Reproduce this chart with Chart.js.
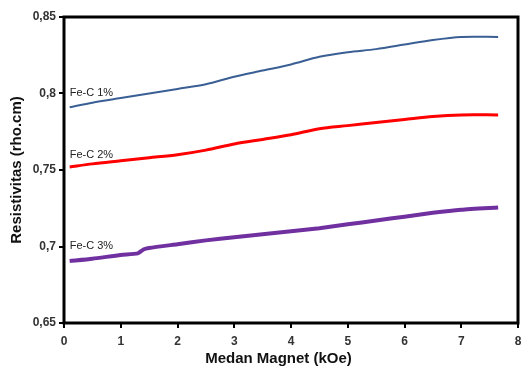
<!DOCTYPE html>
<html lang="id">
<head>
<meta charset="UTF-8">
<title>Resistivitas vs Medan Magnet</title>
<script src="https://cdn.jsdelivr.net/npm/chart.js@4.4.6/dist/chart.umd.min.js"></script>
<style>
  html, body { margin: 0; padding: 0; background: #fff; }
  canvas { display: block; }
</style>
</head>
<body>
<canvas id="chart" width="522" height="372"></canvas>
<script>
  // field (kOe) and resistivity (rho.cm)
  const fieldA = [0.1, 0.5, 1.0, 1.5, 2.0, 2.5, 3.0, 3.5, 4.0, 4.5, 5.0, 5.5, 6.0, 6.5, 7.0, 7.65];
  const feC1 = [0.791, 0.794, 0.797, 0.800, 0.803, 0.806, 0.811, 0.815, 0.819, 0.824, 0.827, 0.829, 0.832, 0.835, 0.837, 0.837];
  const feC2 = [0.752, 0.754, 0.756, 0.758, 0.760, 0.763, 0.767, 0.770, 0.773, 0.777, 0.779, 0.781, 0.783, 0.785, 0.786, 0.786];
  const fieldB = [0.1, 0.5, 1.0, 1.3, 1.4, 1.5, 2.0, 2.5, 3.0, 3.5, 4.0, 4.5, 5.0, 5.5, 6.0, 6.5, 7.0, 7.65];
  const feC3 = [0.6905, 0.692, 0.6945, 0.6955, 0.698, 0.699, 0.7015, 0.704, 0.706, 0.708, 0.710, 0.712, 0.7145, 0.717, 0.7195, 0.722, 0.724, 0.7255];

  const seriesNames = ["Fe-C 1%", "Fe-C 2%", "Fe-C 3%"];
  // where each name sits, in data units (field, resistivity)
  const nameAnchors = [[0.1, 0.8005], [0.1, 0.7600], [0.1, 0.7006]];

  const yTicks = [0.65, 0.7, 0.75, 0.8, 0.85];
  const FONT = "'Liberation Sans', Arial, sans-serif";

  const pts = (xs, ys) => xs.map((x, i) => ({ x: x, y: ys[i] }));

  const frame = {
    id: "frame",
    afterDraw(chart) {
      const { ctx, chartArea: a, scales } = chart;
      ctx.save();
      ctx.strokeStyle = "#000";
      ctx.lineWidth = 3;
      ctx.strokeRect(a.left, a.top, a.right - a.left, a.bottom - a.top);
      ctx.font = "11px " + FONT;
      ctx.fillStyle = "#222";
      ctx.textBaseline = "middle";
      seriesNames.forEach((name, i) => {
        const px = scales.x.getPixelForValue(nameAnchors[i][0]);
        const py = scales.y.getPixelForValue(nameAnchors[i][1]);
        ctx.fillText(name, px, py);
      });
      ctx.restore();
    }
  };

  new Chart(document.getElementById("chart"), {
    type: "line",
    data: {
      datasets: [
        { label: seriesNames[0], data: pts(fieldA, feC1), borderColor: "#3a5f95", borderWidth: 2, pointRadius: 0, tension: 0.3 },
        { label: seriesNames[1], data: pts(fieldA, feC2), borderColor: "#ff0000", borderWidth: 3, pointRadius: 0, tension: 0.3 },
        { label: seriesNames[2], data: pts(fieldB, feC3), borderColor: "#7030a0", borderWidth: 4, pointRadius: 0, tension: 0.2 }
      ]
    },
    options: {
      responsive: false,
      animation: false,
      layout: { padding: { top: 17, right: 4, left: 2, bottom: 0 } },
      plugins: { legend: { display: false }, tooltip: { enabled: false } },
      scales: {
        x: {
          type: "linear",
          min: 0, max: 8,
          afterFit: s => { s.height = 49; s.paddingRight = 0; s.paddingLeft = 0; },
          grid: { drawOnChartArea: false, drawTicks: true, tickLength: 5, tickColor: "#000", lineWidth: 2 },
          border: { display: false },
          ticks: { stepSize: 1, color: "#333", padding: 6, font: { family: FONT, size: 12, weight: "bold" } },
          title: { display: true, text: "Medan Magnet (kOe)      ", color: "#111", padding: { top: 0 }, font: { family: FONT, size: 15, weight: "bold" } }
        },
        y: {
          min: 0.65, max: 0.85,
          afterFit: s => { s.width = 62; s.paddingTop = 0; s.paddingBottom = 0; },
          afterBuildTicks: s => { s.ticks = yTicks.map(v => ({ value: v })); },
          grid: { drawOnChartArea: false, tickLength: 5, tickColor: "#000", lineWidth: 2 },
          border: { display: false },
          ticks: {
            color: "#333", padding: 3,
            font: { family: FONT, size: 12, weight: "bold" },
            callback: v => String(+v.toFixed(2)).replace(".", ",")
          },
          title: { display: true, text: "Resistivitas (rho.cm)", color: "#111", padding: { top: 6, bottom: 0 }, font: { family: FONT, size: 15, weight: "bold" } }
        }
      }
    },
    plugins: [frame]
  });
</script>
</body>
</html>
